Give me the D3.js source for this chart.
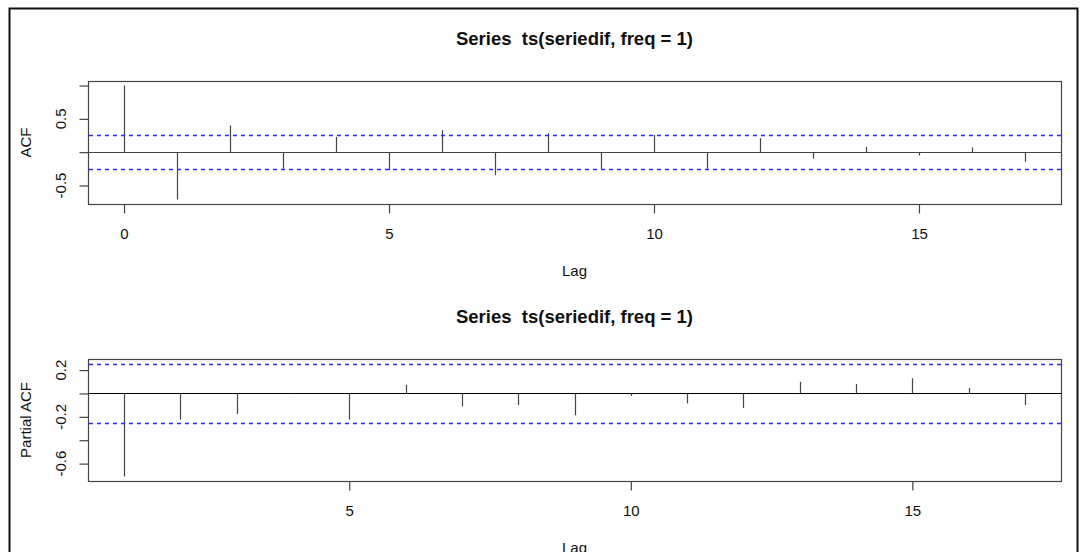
<!DOCTYPE html>
<html><head><meta charset="utf-8">
<script src="https://cdn.jsdelivr.net/npm/d3@7"></script>
<style>
html,body{margin:0;padding:0;background:#fff;}
svg{display:block;font-family:"Liberation Sans",Arial,sans-serif;}
text.title{white-space:pre;}
</style></head>
<body>
<svg id="c" width="1081" height="552"></svg>
<script>
const titleText = "Series  ts(seriedif, freq = 1)";
const acfLags = [0,1,2,3,4,5,6,7,8,9,10,11,12,13,14,15,16,17];
const acfValues = [1.0,-0.71,0.40,-0.25,0.23,-0.27,0.33,-0.345,0.285,-0.25,0.26,-0.25,0.21,-0.095,0.08,-0.05,0.07,-0.145];
const pacfLags = [1,2,3,4,5,6,7,8,9,10,11,12,13,14,15,16,17];
const pacfValues = [-0.71,-0.224,-0.175,0.004,-0.224,0.074,-0.11,-0.10,-0.187,-0.022,-0.085,-0.125,0.10,0.08,0.13,0.048,-0.10];
const confLimit = 0.256;
const acfXTicks = [0,5,10,15];
const acfYTicks = [-0.5,0,0.5,1.0];
const acfYLabels = [-0.5,0.5];
const pacfXTicks = [5,10,15];
const pacfYTicks = [-0.6,-0.4,-0.2,0,0.2];
const pacfYLabels = [-0.6,-0.2,0.2];

const svg = d3.select("#c");
const lineCol = "#444";
const blue = "#2b2bff";

// outer screenshot frame
svg.append("rect").attr("x",9.5).attr("y",8.5).attr("width",1068).attr("height",560)
  .attr("fill","none").attr("stroke","#111").attr("stroke-width",2);

function panel(o){
  const lags=o.lags, vals=o.vals;
  const xmin=d3.min(lags), xmax=d3.max(lags);
  const xpad=(xmax-xmin)*0.04;
  const ylo=Math.min(d3.min(vals),-confLimit), yhi=Math.max(d3.max(vals),confLimit);
  const ypad=(yhi-ylo)*0.04;
  const x=d3.scaleLinear().domain([xmin-xpad,xmax+xpad]).range([o.left,o.right]);
  const y=d3.scaleLinear().domain([ylo-ypad,yhi+ypad]).range([o.bottom,o.top]);
  const g=svg.append("g");
  g.append("rect").attr("x",o.left+0.5).attr("y",o.top+0.5)
    .attr("width",o.right-o.left).attr("height",o.bottom-o.top)
    .attr("fill","none").attr("stroke",lineCol).attr("stroke-width",1.2);
  g.append("line").attr("x1",o.left).attr("x2",o.right)
    .attr("y1",Math.round(y(0))+0.5).attr("y2",Math.round(y(0))+0.5)
    .attr("stroke",o.zeroCol).attr("stroke-width",1.1);
  g.selectAll("line.bar").data(lags).enter().append("line").attr("class","bar")
    .attr("x1",(d)=>Math.round(x(d))+0.5).attr("x2",(d)=>Math.round(x(d))+0.5)
    .attr("y1",y(0)).attr("y2",(d,i)=>y(vals[i]))
    .attr("stroke",lineCol).attr("stroke-width",1.2);
  [confLimit,-confLimit].forEach(c=>{
    g.append("line").attr("x1",o.left+1).attr("x2",o.right)
      .attr("y1",Math.round(y(c))+0.5).attr("y2",Math.round(y(c))+0.5)
      .attr("stroke",blue).attr("stroke-width",1.3).attr("stroke-dasharray","4,4");
  });
  const xa=g.append("g").attr("transform",`translate(0,${o.bottom+0.5})`)
    .call(d3.axisBottom(x).tickValues(o.xticks).tickSize(9).tickPadding(15).tickFormat(d3.format("d")));
  xa.select(".domain").remove();
  xa.selectAll("line").attr("stroke",lineCol).attr("stroke-width",1.2);
  xa.selectAll("text").attr("font-size",15).attr("fill","#111").attr("font-family","Liberation Sans, Arial, sans-serif");
  const ya=g.append("g").attr("transform",`translate(${o.left+0.5},0)`)
    .call(d3.axisLeft(y).tickValues(o.yticks).tickSize(9));
  ya.select(".domain").remove();
  ya.selectAll("line").attr("stroke",lineCol).attr("stroke-width",1.2);
  ya.selectAll("text").remove();
  o.ylabels.forEach(v=>{
    g.append("text").attr("transform",`translate(${o.left-22},${y(v)}) rotate(-90)`)
      .attr("text-anchor","middle").attr("font-size",15).attr("fill","#111")
      .text(v.toFixed(1));
  });
  g.append("text").attr("transform",`translate(31,${(o.top+o.bottom)/2}) rotate(-90)`)
    .attr("text-anchor","middle").attr("font-size",15).attr("fill","#111").text(o.ylab);
  g.append("text").attr("x",(o.left+o.right)/2).attr("y",o.bottom+72)
    .attr("text-anchor","middle").attr("font-size",15).attr("fill","#111").text("Lag");
  g.append("text").attr("class","title").attr("x",(o.left+o.right)/2).attr("y",o.top-36)
    .attr("text-anchor","middle").attr("font-size",18.5).attr("font-weight","bold").attr("fill","#111").text(titleText);
}

panel({lags:acfLags, vals:acfValues, left:88, right:1061, top:81, bottom:204,
  xticks:acfXTicks, yticks:acfYTicks, ylabels:acfYLabels, ylab:"ACF", zeroCol:"#444"});
panel({lags:pacfLags, vals:pacfValues, left:88, right:1061, top:359, bottom:481,
  xticks:pacfXTicks, yticks:pacfYTicks, ylabels:pacfYLabels, ylab:"Partial ACF", zeroCol:"#000"});
</script>
</body></html>
